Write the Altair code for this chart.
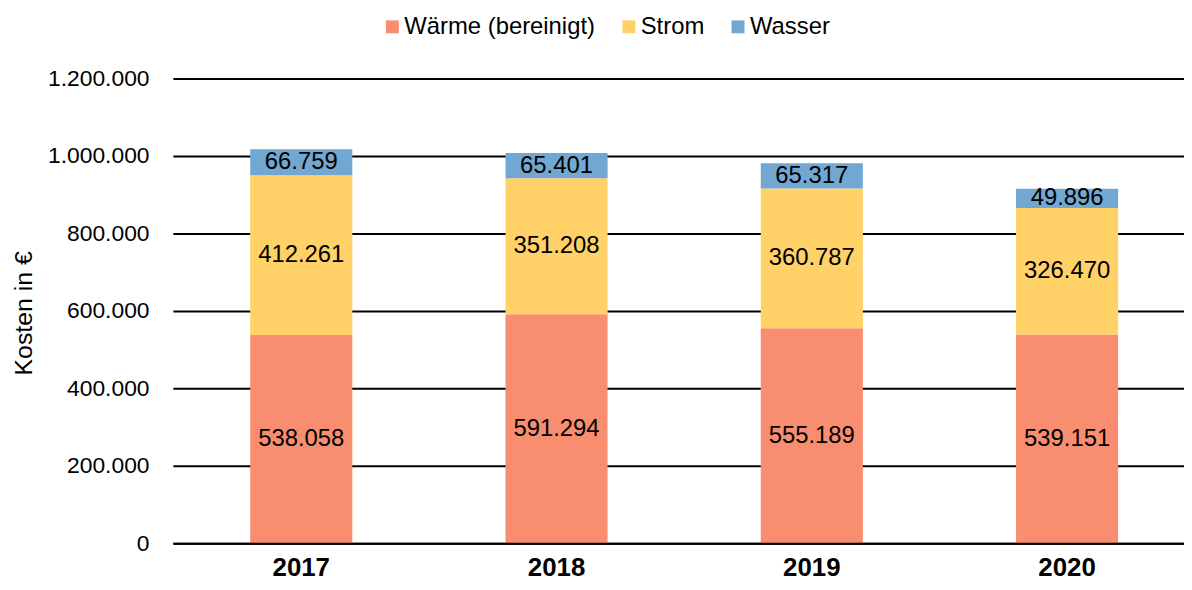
import altair as alt
import pandas as pd

years = ["2017", "2018", "2019", "2020"]
waerme = [538058, 591294, 555189, 539151]
strom = [412261, 351208, 360787, 326470]
wasser = [66759, 65401, 65317, 49896]
series = ["Wärme (bereinigt)", "Strom", "Wasser"]
colors = ["#F98D6F", "#FFD166", "#71A7D0"]
y_ticks = [0, 200000, 400000, 600000, 800000, 1000000, 1200000]

rows = []
for i, yr in enumerate(years):
    for k, (s, vals) in enumerate(zip(series, [waerme, strom, wasser])):
        rows.append({"year": yr, "series": s, "order": k, "value": vals[i]})
df = pd.DataFrame(rows)

FONT = "Liberation Sans"

base = alt.Chart(df).transform_stack(
    stack="value", groupby=["year"], as_=["y0", "y1"],
    sort=[alt.SortField("order", order="ascending")]
).transform_calculate(mid="(datum.y0 + datum.y1) / 2")

x_scale = alt.Scale(domain=years, paddingInner=0.6, paddingOuter=0.2805, align=0.54)
y_scale = alt.Scale(domain=[0, 1200000], nice=False, zero=True)

x_axis = alt.Axis(labelAngle=0, labelFont=FONT, labelFontSize=26,
                  labelFontWeight="bold", labelColor="#000", labelPadding=11,
                  ticks=False, domain=True, domainColor="#000", domainWidth=2,
                  grid=False, zindex=1)
y_axis = alt.Axis(values=y_ticks, format=",d", title="Kosten in €",
                  labelFont=FONT, labelFontSize=23, labelColor="#000",
                  labelPadding=24, ticks=False, domain=False,
                  grid=True, gridColor="#000", gridWidth=2,
                  titleFont=FONT, titleFontSize=25, titleFontWeight="normal",
                  titleColor="#000", titleX=-150, titleY=236, titleAngle=270,
                  titleAlign="center", titleBaseline="middle")

bars = base.mark_bar().encode(
    x=alt.X("year:N", title=None, scale=x_scale, axis=x_axis),
    y=alt.Y("y0:Q", title="Kosten in €", scale=y_scale, axis=y_axis),
    y2="y1:Q",
    color=alt.Color("series:N", scale=alt.Scale(domain=series, range=colors),
                    legend=alt.Legend(orient="none", legendX=209, legendY=-64,
                                      direction="horizontal", title=None,
                                      symbolType="square", symbolSize=169,
                                      symbolStrokeWidth=0, labelFont=FONT,
                                      labelFontSize=24, labelColor="#000",
                                      labelLimit=500,
                                      columnPadding=21, labelOffset=0, padding=0)),
)

labels = base.mark_text(font=FONT, fontSize=24, color="#000", baseline="middle").encode(
    x=alt.X("year:N", title=None, scale=x_scale, axis=x_axis),
    y=alt.Y("mid:Q", title="Kosten in €", scale=y_scale, axis=y_axis),
    text=alt.Text("value:Q", format=",d"),
)

chart = alt.layer(bars, labels).properties(
    width=1018, height=468,
    autosize=alt.AutoSizeParams(type="none"),
    padding={"left": 166, "top": 69, "right": 0, "bottom": 37},
).configure(
    font=FONT,
    locale={"number": {"decimal": ",", "thousands": ".", "grouping": [3],
                       "currency": ["", " €"]}},
).configure_view(stroke=None)

chart.save("out.html", embed_options={"renderer": "svg", "actions": False})
